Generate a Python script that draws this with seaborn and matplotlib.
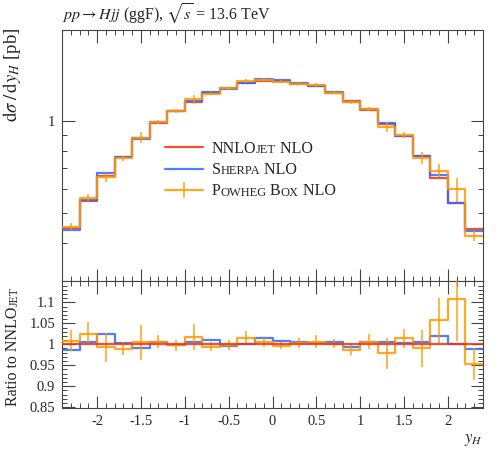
import numpy as np
import pandas as pd
import seaborn as sns
import matplotlib
matplotlib.use("Agg")
import matplotlib.pyplot as plt
from matplotlib.ticker import MultipleLocator, FuncFormatter, NullFormatter, LogLocator, FixedLocator
from matplotlib.lines import Line2D
from matplotlib.legend_handler import HandlerTuple

# y_H bins (width 0.2)
bin_edges = [-2.4, -2.2, -2.0, -1.8, -1.6, -1.4, -1.2, -1.0, -0.8, -0.6, -0.4, -0.2, 0.0,
             0.2, 0.4, 0.6, 0.8, 1.0, 1.2, 1.4, 1.6, 1.8, 2.0, 2.2, 2.4]

# dsigma/dy_H [pb]
nnlojet = [0.447, 0.547, 0.659, 0.762, 0.878, 0.983, 1.078, 1.156, 1.234, 1.281, 1.330, 1.353,
           1.347, 1.320, 1.297, 1.234, 1.164, 1.086, 0.976, 0.889, 0.765, 0.651, 0.540, 0.442]
sherpa = [0.441, 0.550, 0.675, 0.764, 0.870, 0.988, 1.077, 1.162, 1.246, 1.275, 1.331, 1.372,
          1.358, 1.328, 1.302, 1.240, 1.156, 1.091, 0.981, 0.891, 0.769, 0.664, 0.540, 0.437]
powheg = [0.451, 0.561, 0.654, 0.754, 0.882, 0.989, 1.075, 1.176, 1.227, 1.278, 1.351, 1.360,
          1.343, 1.323, 1.305, 1.236, 1.149, 1.093, 0.955, 0.902, 0.758, 0.688, 0.598, 0.421]
powheg_err = [0.0116, 0.0153, 0.0224, 0.0122, 0.036, 0.0147, 0.0151, 0.037, 0.0136, 0.0154, 0.0226, 0.0149,
              0.0121, 0.0158, 0.0195, 0.0136, 0.0151, 0.0185, 0.0361, 0.0204, 0.0337, 0.0345, 0.054, 0.0168]

ratio_ticks = [0.85, 0.9, 0.95, 1.0, 1.05, 1.1]

RED = "#EE3311"
BLUE = "#3366FF"
ORANGE = "#FF9900"

sns.set_theme(style="ticks")
plt.rcParams["font.family"] = ["Liberation Serif", "DejaVu Serif"]
plt.rcParams["mathtext.fontset"] = "stix"
plt.rcParams["axes.unicode_minus"] = False

edges = np.array(bin_edges)
centres = 0.5 * (edges[:-1] + edges[1:])
df = pd.DataFrame({"y_H": centres, "NNLOjet": nnlojet, "Sherpa": sherpa,
                   "Powheg": powheg, "Powheg_err": powheg_err})
df["r_nnlojet"] = df["NNLOjet"] / df["NNLOjet"]
df["r_sherpa"] = df["Sherpa"] / df["NNLOjet"]
df["r_powheg"] = df["Powheg"] / df["NNLOjet"]
df["r_powheg_err"] = df["Powheg_err"] / df["NNLOjet"]

fig = plt.figure(figsize=(4.98, 4.5), dpi=100)
ax = fig.add_axes([0.1245, 0.3756, 0.8454, 0.5578])
axr = fig.add_axes([0.1245, 0.0933, 0.8454, 0.2823], sharex=ax)

ax.set_yscale("log")
lw = 1.6
for col, c, z in [("NNLOjet", RED, 2), ("Sherpa", BLUE, 3), ("Powheg", ORANGE, 4)]:
    sns.histplot(data=df, x="y_H", weights=col, bins=bin_edges, element="step", fill=False,
                 color=c, lw=lw, alpha=0.85, zorder=z, ax=ax)
ax.errorbar(df["y_H"], df["Powheg"], yerr=df["Powheg_err"], fmt="none", ecolor=ORANGE,
            elinewidth=1.2, alpha=0.85, zorder=4)

for col, c, z in [("r_sherpa", BLUE, 2), ("r_powheg", ORANGE, 3), ("r_nnlojet", RED, 4)]:
    sns.histplot(data=df, x="y_H", weights=col, bins=bin_edges, element="step", fill=False,
                 color=c, lw=lw, alpha=0.85, zorder=z, ax=axr)
axr.errorbar(df["y_H"], df["r_powheg"], yerr=df["r_powheg_err"], fmt="none", ecolor=ORANGE,
             elinewidth=1.2, alpha=0.85, zorder=3)

# axes ranges and ticks
ax.set_xlim(-2.4, 2.4)
ax.set_ylim(0.30, 1.98)
axr.set_ylim(0.848, 1.151)

fmt = FuncFormatter(lambda v, p: "%g" % round(v, 3))
for a in (ax, axr):
    a.xaxis.set_major_locator(MultipleLocator(0.5))
    a.xaxis.set_minor_locator(MultipleLocator(0.1))
    a.tick_params(which="both", direction="in", top=True, right=True, color="#444444",
                  labelsize=10.5, pad=5)
    a.tick_params(which="major", length=9, width=0.8)
    a.tick_params(which="minor", length=3.6, width=0.7)
    for s in a.spines.values():
        s.set_color("#444444")
        s.set_linewidth(0.8)
ax.yaxis.set_major_locator(FixedLocator([1.0]))
ax.yaxis.set_major_formatter(fmt)
ax.yaxis.set_minor_locator(LogLocator(base=10, subs=np.arange(2, 10) * 0.1, numticks=20))
ax.yaxis.set_minor_formatter(NullFormatter())
ax.tick_params(axis="x", labelbottom=False)
axr.yaxis.set_major_locator(FixedLocator(ratio_ticks))
axr.yaxis.set_minor_locator(MultipleLocator(0.01))
axr.yaxis.set_major_formatter(fmt)
axr.xaxis.set_major_formatter(fmt)

# labels
ax.set_xlabel("")
ax.set_ylabel(r"$\mathrm{d}\sigma\;/\,\mathrm{d}y_H$ [pb]", fontsize=13.5, loc="top")
ax.yaxis.set_label_coords(-0.093, 1.01)
axr.set_xlabel(r"$y_H$", fontsize=12, loc="right")
axr.xaxis.set_label_coords(1.0, -0.19)
axr.set_ylabel("Ratio to NNLO", fontsize=11.5)
axr.yaxis.set_label_coords(-0.097, 0.41)
ax.set_title(r"$pp \rightarrow Hjj$ (ggF), $\sqrt{s}$ = 13.6 TeV", loc="left", fontsize=11.5, pad=7)

DESC = 0.217  # font descent as a fraction of the size, used to keep baselines level


def small_caps(first, pieces, rotation=0):
    # chain text pieces after `first` so small-caps parts can use a smaller size
    prev = first
    prev_size = first.get_fontsize()
    for txt, size in pieces:
        shift = DESC * (prev_size - size)
        if rotation:
            prev = axr.annotate(txt, xy=(1, 1), xycoords=prev, xytext=(-shift, 0),
                                textcoords="offset points", ha="right", va="bottom",
                                rotation=90, fontsize=size, annotation_clip=False, zorder=6)
        else:
            prev = ax.annotate(txt, xy=(1, 0), xycoords=prev, xytext=(0, shift),
                               textcoords="offset points", ha="left", va="bottom",
                               fontsize=size, annotation_clip=False, zorder=6)
        prev_size = size
    return prev


small_caps(axr.yaxis.label, [("JET", 8.5)], rotation=90)

# legend
h_red = Line2D([], [], color=RED, lw=lw, alpha=0.85)
h_blue = Line2D([], [], color=BLUE, lw=lw, alpha=0.85)
h_or = Line2D([], [], color=ORANGE, lw=lw, alpha=0.85)
h_orbar = Line2D([], [], color=ORANGE, lw=0, marker="|", markersize=12, mew=1.2, alpha=0.85)
leg = ax.legend([h_red, h_blue, (h_or, h_orbar)], ["NNLO", "S", "P"],
                handler_map={tuple: HandlerTuple(ndivide=1)},
                loc="upper left", bbox_to_anchor=(0.245, 0.558), frameon=False,
                fontsize=11.5, handlelength=2.4, handletextpad=0.5, labelspacing=0.33,
                borderpad=0, borderaxespad=0)
t_nnlo, t_sh, t_pw = leg.get_texts()
small_caps(t_nnlo, [("JET", 9), (" NLO", 11.5)])
small_caps(t_sh, [("HERPA", 9), (" NLO", 11.5)])
small_caps(t_pw, [("OWHEG", 9), (" B", 11.5), ("OX", 9), (" NLO", 11.5)])

fig.savefig("out.png", dpi=100)
